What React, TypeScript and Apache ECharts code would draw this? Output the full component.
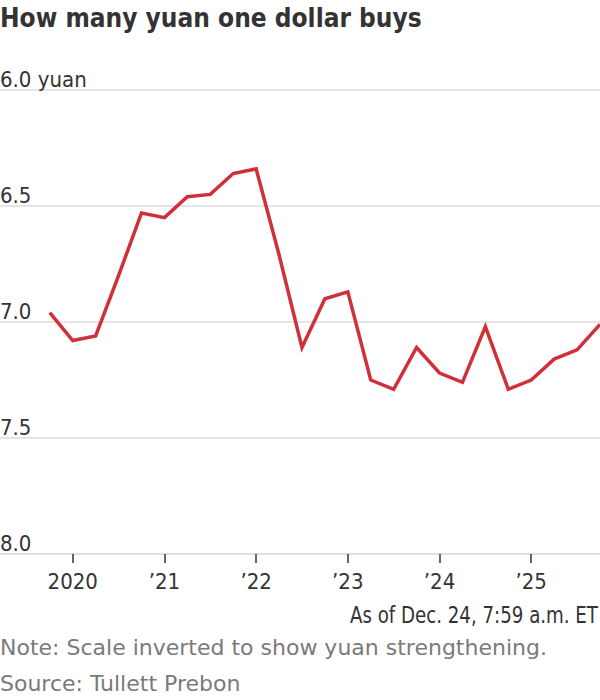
import React, { useEffect, useRef } from "react";
import * as echarts from "echarts";

// Quarterly observation dates (year-month)
const dates = [
  "2019-10", "2020-01", "2020-04", "2020-07", "2020-10",
  "2021-01", "2021-04", "2021-07", "2021-10",
  "2022-01", "2022-04", "2022-07", "2022-10",
  "2023-01", "2023-04", "2023-07", "2023-10",
  "2024-01", "2024-04", "2024-07", "2024-10",
  "2025-01", "2025-04", "2025-07", "2025-10",
];

// Yuan per dollar
const yuanPerDollar = [
  6.96, 7.08, 7.06, 6.80, 6.53,
  6.55, 6.46, 6.45, 6.36,
  6.34, 6.71, 7.11, 6.90,
  6.87, 7.25, 7.29, 7.11,
  7.22, 7.26, 7.02, 7.29,
  7.25, 7.16, 7.12, 7.01,
];

const yearTicks = [2020, 2021, 2022, 2023, 2024, 2025];
const yearTickLabels = ["2020", "\u201921", "\u201922", "\u201923", "\u201924", "\u201925"];
const yTickLabels: Record<string, string> = {
  "6": "6.0 yuan",
  "6.5": "6.5",
  "7": "7.0",
  "7.5": "7.5",
  "8": "8.0",
};

const title = "How many yuan one dollar buys";
const asOf = "As of Dec. 24, 7:59 a.m. ET";
const note = "Note: Scale inverted to show yuan strengthening.";
const source = "Source: Tullett Prebon";

const NARROW = '"DejaVu Sans Condensed", "DejaVu Sans", sans-serif';
const REGULAR = '"DejaVu Sans", sans-serif';

function toDecimalYear(d: string): number {
  const [y, m] = d.split("-").map(Number);
  return y + (m - 1) / 12;
}

export default function App() {
  const ref = useRef<HTMLDivElement>(null);

  useEffect(() => {
    if (!ref.current) return;
    const chart = echarts.init(ref.current, null, { renderer: "svg" });
    const data = dates.map((d, i) => [toDecimalYear(d), yuanPerDollar[i]]);

    chart.setOption({
      animation: false,
      textStyle: { fontFamily: NARROW },
      grid: {
        left: 0,
        right: 0,
        top: 90,
        bottom: 146,
        containLabel: false,
        outerBoundsMode: "none",
      },
      xAxis: {
        type: "value",
        min: 2019.207,
        max: 2025.75,
        splitLine: { show: false },
        axisLine: { show: true, onZero: false, lineStyle: { color: "#dddddd", width: 1.5 } },
        axisTick: {
          show: true,
          length: 9,
          customValues: yearTicks,
          lineStyle: { color: "#333333", width: 1.5 },
        },
        axisLabel: {
          customValues: yearTicks,
          formatter: (v: number) => yearTickLabels[yearTicks.indexOf(Math.round(v))] ?? "",
          color: "#333333",
          fontFamily: NARROW,
          fontSize: 22,
          margin: 16,
        },
      },
      yAxis: {
        type: "value",
        inverse: true,
        min: 6,
        max: 8,
        interval: 0.5,
        axisLine: { show: false },
        axisTick: { show: false },
        splitLine: { show: true, lineStyle: { color: "#dddddd", width: 1.5 } },
        axisLabel: {
          inside: true,
          margin: 0,
          verticalAlign: "bottom",
          color: "#333333",
          fontFamily: NARROW,
          fontSize: 22,
          formatter: (v: number) => yTickLabels[String(v)] ?? String(v),
        },
      },
      series: [
        {
          type: "line",
          data,
          showSymbol: false,
          symbol: "none",
          lineStyle: { color: "#d0303a", width: 3.5, join: "miter" },
          z: 5,
        },
      ],
      graphic: [
        {
          type: "text",
          left: 0,
          top: 5,
          style: {
            text: title,
            fontFamily: NARROW,
            fontWeight: "bold",
            fontSize: 26,
            fill: "#333333",
          },
        },
        {
          type: "text",
          x: 598,
          y: 615,
          scaleX: 0.88,
          style: {
            text: asOf,
            fontFamily: NARROW,
            fontSize: 23,
            fill: "#333333",
            align: "right",
            verticalAlign: "middle",
          },
        },
        {
          type: "text",
          left: 0,
          top: 636,
          style: {
            text: note,
            fontFamily: REGULAR,
            fontSize: 22,
            fill: "#7a7a7a",
          },
        },
        {
          type: "text",
          left: 0,
          top: 672,
          style: {
            text: source,
            fontFamily: REGULAR,
            fontSize: 22,
            fill: "#7a7a7a",
          },
        },
      ],
    });

    return () => chart.dispose();
  }, []);

  return (
    <div
      ref={ref}
      style={{ position: "absolute", left: 0, top: 0, width: 600, height: 700 }}
    />
  );
}
